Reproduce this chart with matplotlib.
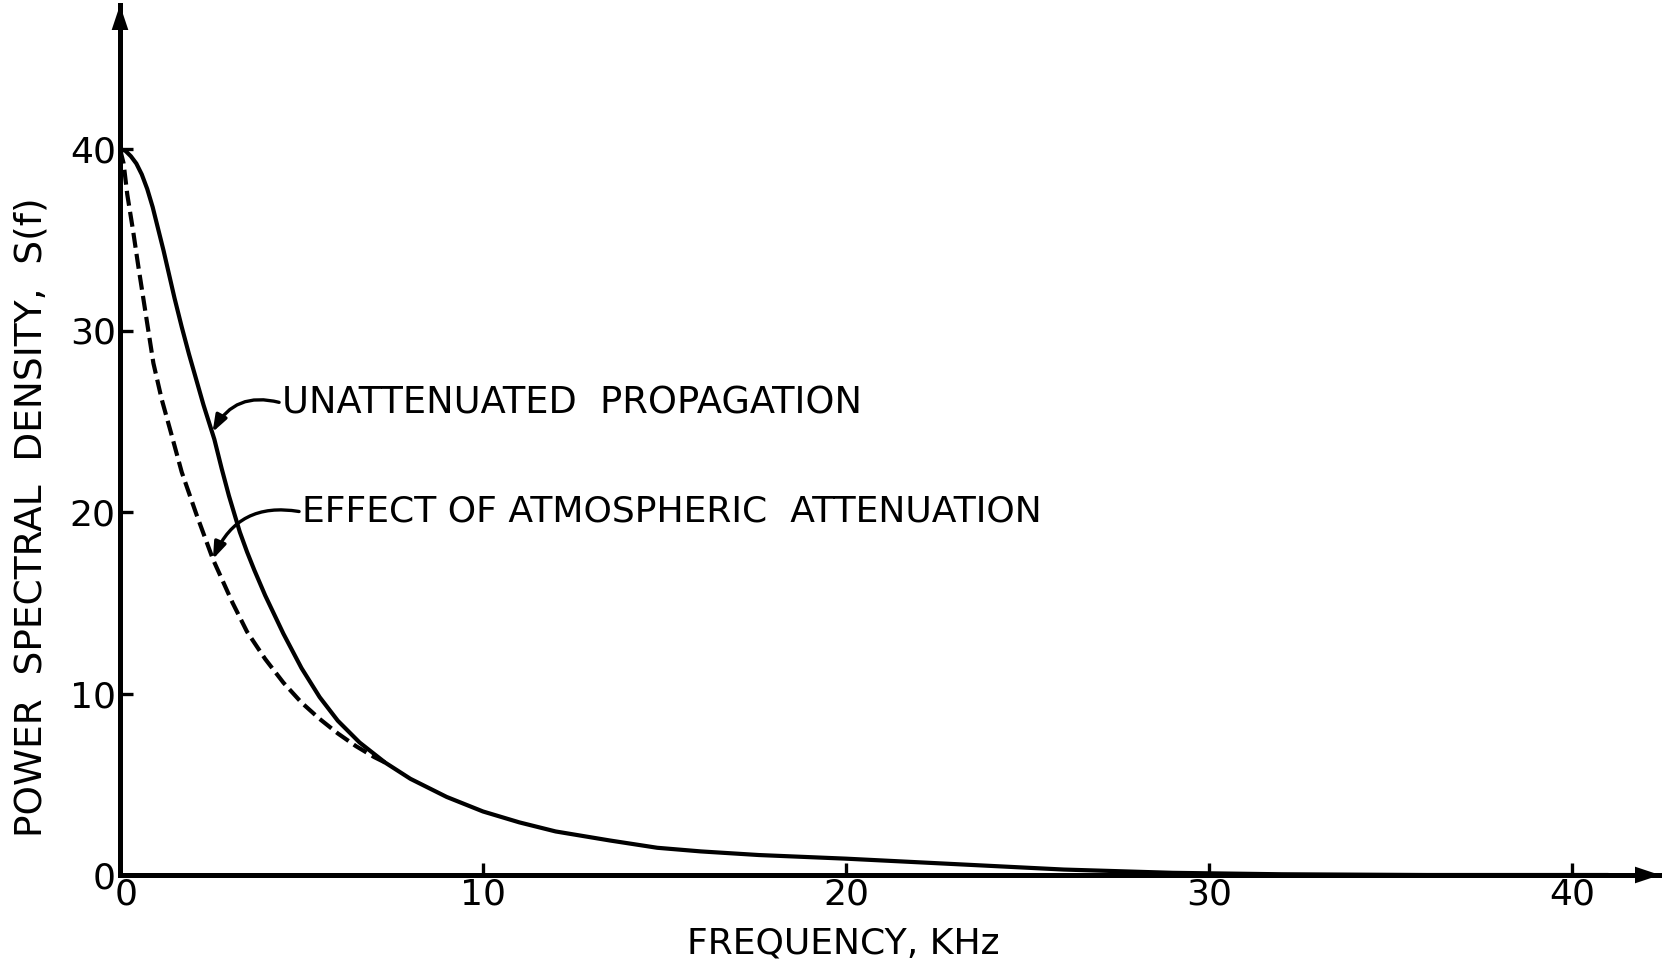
import matplotlib
matplotlib.use("Agg")
from matplotlib import pyplot as plt
from matplotlib import transforms

# solid curve: unattenuated propagation
f_solid = [0.0, 0.15, 0.3, 0.45, 0.6, 0.75, 0.9, 1.05, 1.2, 1.35, 1.5, 1.7, 1.9,
           2.1, 2.3, 2.6, 2.8, 3.0, 3.3, 3.5, 3.7, 4.0, 4.5, 5.0, 5.5, 6.0, 6.6,
           7.3, 8.0, 9.0, 10.0, 11.0, 12.0, 13.5, 14.8, 16.0, 17.6, 20.0, 23.0,
           26.0, 29.0, 32.0, 36.0, 41.0]
s_solid = [40.0, 39.9, 39.6, 39.2, 38.6, 37.8, 36.8, 35.6, 34.4, 33.1, 31.8, 30.2,
           28.7, 27.3, 25.9, 24.0, 22.4, 20.9, 18.9, 17.8, 16.8, 15.4, 13.3, 11.4,
           9.8, 8.5, 7.3, 6.2, 5.3, 4.3, 3.5, 2.9, 2.4, 1.9, 1.5, 1.3, 1.1, 0.9,
           0.6, 0.3, 0.12, 0.04, 0.0, 0.0]

# dashed curve: with atmospheric attenuation
f_dash = [0.0, 0.1, 0.2, 0.36, 0.5, 0.64, 0.92, 1.15, 1.4, 1.7, 2.1, 2.56, 3.1,
          3.5, 4.0, 4.5, 5.0, 5.5, 6.0, 6.5, 7.0, 7.3]
s_dash = [40.0, 39.2, 37.5, 35.5, 33.6, 31.8, 28.2, 26.2, 24.4, 22.2, 19.9, 17.4,
          15.0, 13.4, 11.9, 10.6, 9.5, 8.6, 7.8, 7.1, 6.5, 6.2]

ticks = [0, 10, 20, 30, 40]

plt.rcParams['font.family'] = ['DejaVu Sans']

fig = plt.figure(figsize=(16.62, 9.66), dpi=100)
ax = fig.add_axes([120/1662, 91/966, 1540/1662, 870/966])
ax.set_xlim(0, 1540/36.3)
ax.set_ylim(0, 870/18.15)

ax.plot(f_solid, s_solid, color='k', lw=3.0, solid_capstyle='round',
        solid_joinstyle='round')
ax.plot(f_dash, s_dash, color='k', lw=3.0, dashes=(3.6, 1.5))

for s in ['top', 'right']:
    ax.spines[s].set_visible(False)
for s in ['left', 'bottom']:
    ax.spines[s].set_linewidth(3.6)

# arrow heads on the axes
head = dict(arrowstyle='-|>,head_length=0.9,head_width=0.3', mutation_scale=20,
            color='k', lw=0, shrinkA=0, shrinkB=0)
ax.annotate('', xy=(1.0, 0), xytext=(0.98, 0), xycoords='axes fraction',
            arrowprops=head, annotation_clip=False)
ax.annotate('', xy=(0, 1.0), xytext=(0, 0.97), xycoords='axes fraction',
            arrowprops=head, annotation_clip=False)

ax.set_xticks(ticks)
ax.set_yticks(ticks)
ax.tick_params(direction='in', length=9, width=2.4, labelsize=26, pad=2)
ax.tick_params(axis='y', pad=3)

# nudge the x "0" right so it clears the y "0"
lab0 = ax.get_xticklabels()[0]
lab0.set_transform(lab0.get_transform() +
                   transforms.ScaledTranslation(6/100, 0, fig.dpi_scale_trans))

arr = dict(arrowstyle='-|>,head_length=0.5,head_width=0.18', mutation_scale=20,
           color='k', lw=2.4, shrinkA=0, shrinkB=0,
           connectionstyle='arc3,rad=0.4', relpos=(0, 0.5))
ax.annotate('UNATTENUATED  PROPAGATION', xy=(2.55, 24.4), xytext=(4.46, 26.0),
            fontsize=26.5, va='center', ha='left', arrowprops=arr)
ax.annotate('EFFECT OF ATMOSPHERIC  ATTENUATION', xy=(2.56, 17.4), xytext=(5.01, 20.0),
            fontsize=26, va='center', ha='left', arrowprops=arr)

fig.text(843/1662, 1 - 943/966, 'FREQUENCY, KHz', fontsize=26, ha='center', va='center')
fig.text(32/1662, 1 - 517/966, 'POWER  SPECTRAL  DENSITY,  S(f)', fontsize=27,
         ha='center', va='center', rotation=90)

fig.savefig('out.png', dpi=100)
